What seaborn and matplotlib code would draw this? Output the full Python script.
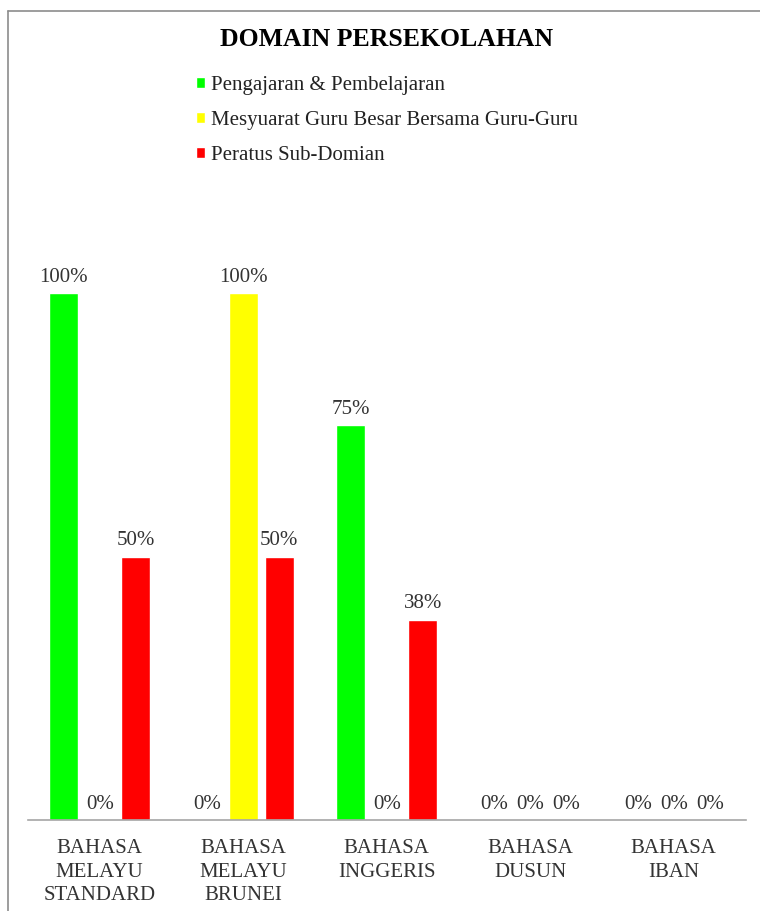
import matplotlib
matplotlib.use("Agg")
import matplotlib.pyplot as plt
from matplotlib.lines import Line2D
import seaborn as sns
import pandas as pd

# Languages used in the school domain
categories = [
    "BAHASA\nMELAYU\nSTANDARD",
    "BAHASA\nMELAYU\nBRUNEI",
    "BAHASA\nINGGERIS",
    "BAHASA\nDUSUN",
    "BAHASA\nIBAN",
]
series_names = [
    "Pengajaran & Pembelajaran",
    "Mesyuarat Guru Besar Bersama Guru-Guru",
    "Peratus Sub-Domian",
]
# Percentages per sub-domain
pengajaran = [100, 0, 75, 0, 0]
mesyuarat = [0, 100, 0, 0, 0]
peratus = [50, 50, 38, 0, 0]
colors = ["#00FF00", "#FFFF00", "#FF0000"]

df = pd.DataFrame({
    "bahasa": categories * 3,
    "domain": [series_names[0]] * 5 + [series_names[1]] * 5 + [series_names[2]] * 5,
    "nilai": pengajaran + mesyuarat + peratus,
})

sns.set_theme(style="white")
plt.rcParams["font.family"] = ["Liberation Serif", "DejaVu Serif"]

W, H = 760, 911
fig = plt.figure(figsize=(W / 100, H / 100), dpi=100)
fig.patch.set_facecolor("white")

base_y = 820
top_y = 240
full_px = 527.0  # pixel height of 100%
ax = fig.add_axes([28 / W, (H - base_y) / H, (745.5 - 28) / W, (base_y - top_y) / H])

sns.barplot(
    data=df, x="bahasa", y="nilai", hue="domain",
    hue_order=series_names, palette=colors,
    width=0.752, gap=0.2, saturation=1, errorbar=None, ax=ax,
)
ax.set_ylim(0, (base_y - top_y) / full_px * 100)
ax.set_xlim(-0.5, 4.5)

for cont in ax.containers:
    ax.bar_label(cont, fmt="{:.0f}%", padding=4.5, fontsize=15, color="#333333")

ax.set_xlabel("")
ax.set_ylabel("")
ax.set_yticks([])
ax.tick_params(axis="x", length=0, pad=14, labelsize=15, labelcolor="#333333")
for lbl in ax.get_xticklabels():
    lbl.set_linespacing(1.29)
for side in ["left", "right", "top"]:
    ax.spines[side].set_visible(False)
ax.spines["bottom"].set_color("#a6a6a6")
ax.spines["bottom"].set_linewidth(1.2)

sns.move_legend(
    ax, "upper left",
    bbox_to_anchor=(196 / W, 1 - 76 / H),
    bbox_transform=fig.transFigure,
    frameon=False, title=None, fontsize=15,
    handlelength=0.42, handleheight=0.42, handletextpad=0.3,
    labelspacing=0.77, borderaxespad=0, borderpad=0,
)
for t in ax.get_legend().get_texts():
    t.set_color("#222222")

fig.text(386.75 / W, 1 - 39 / H, "DOMAIN PERSEKOLAHAN",
         ha="center", va="center", fontsize=18.5, fontweight="bold", color="black")

# Chart frame (top and left edges)
frame_kw = dict(color="#8c8c8c", linewidth=1.2, transform=fig.transFigure)
fig.add_artist(Line2D([8 / W, 1], [1 - 11 / H, 1 - 11 / H], **frame_kw))
fig.add_artist(Line2D([8 / W, 8 / W], [0, 1 - 11 / H], **frame_kw))

fig.savefig("out.png", dpi=100)
